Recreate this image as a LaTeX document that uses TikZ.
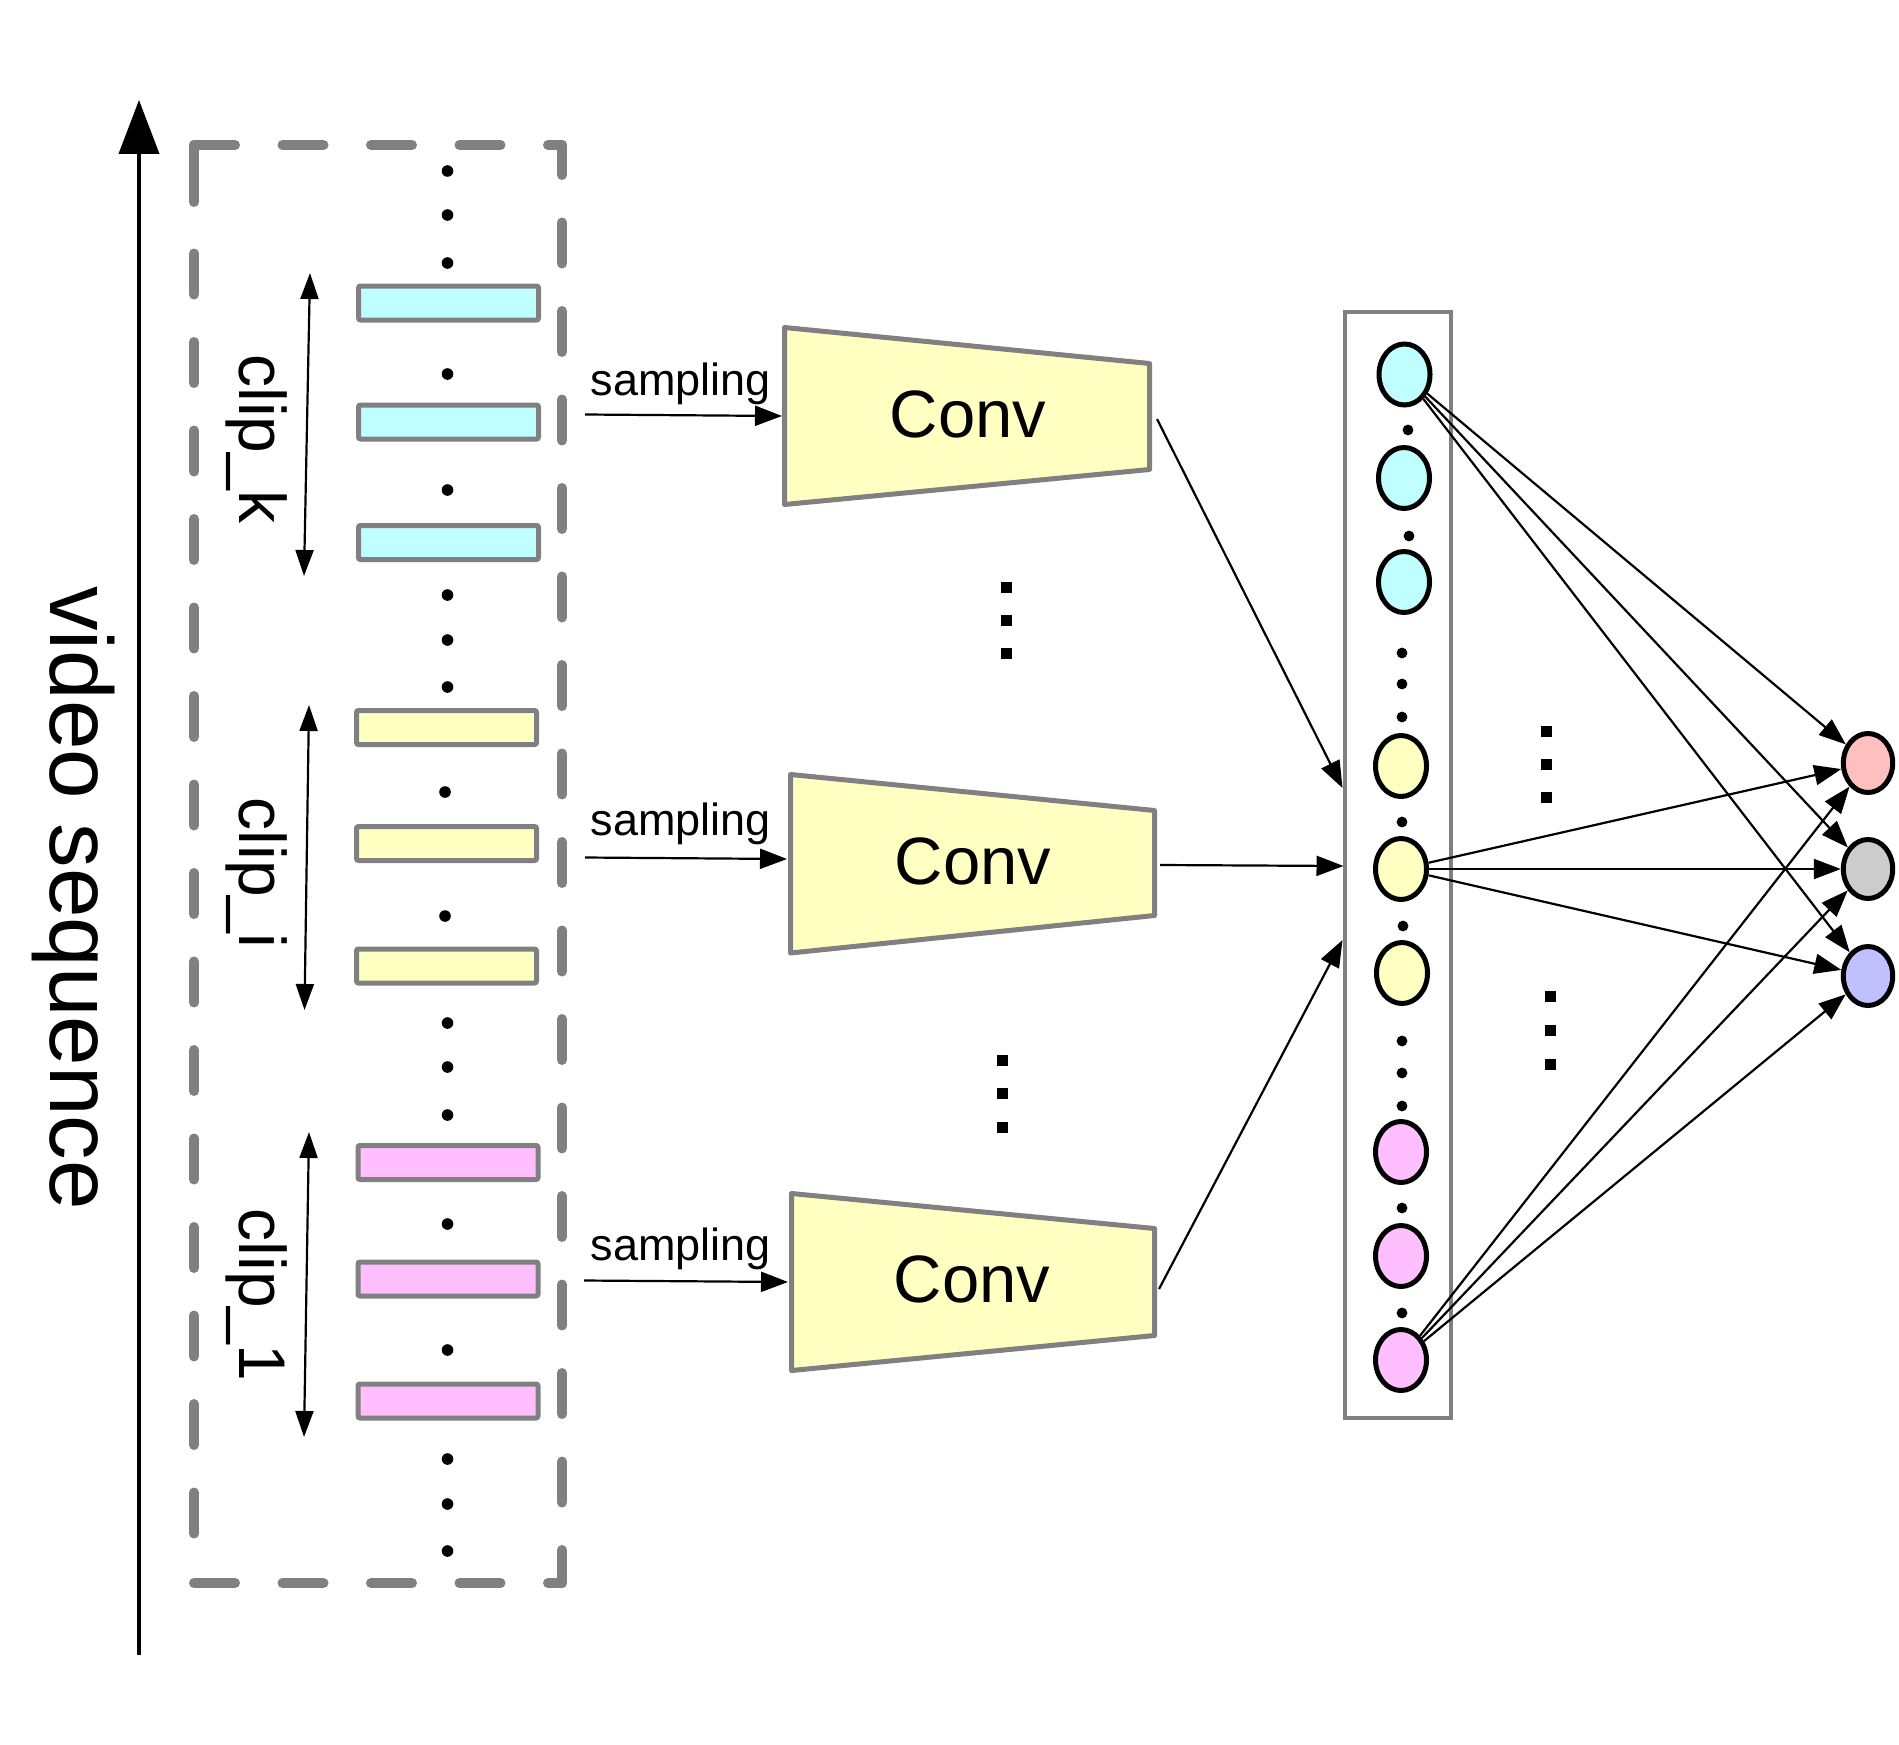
\documentclass[tikz,border=0pt]{standalone}
\usepackage{fontspec}
\setmainfont{Liberation Sans}
\usetikzlibrary{arrows.meta,shapes.geometric}
\definecolor{cyanf}{HTML}{BFFFFF}
\definecolor{yelf}{HTML}{FFFFC2}
\definecolor{pinkf}{HTML}{FFBFFF}
\definecolor{redf}{HTML}{FFBFBF}
\definecolor{grayf}{HTML}{CCCCCC}
\definecolor{bluef}{HTML}{C0C0FF}
\definecolor{edgec}{HTML}{808080}
\begin{document}
\begin{tikzpicture}[x=0.5pt,y=-0.5pt,
 frame/.style={draw=edgec,line width=2.5pt,rounded corners=1pt,minimum width=90pt,minimum height=17pt,inner sep=0pt,outer sep=0pt},
 ell/.style={ellipse,draw=black,line width=2.5pt,minimum width=25.5pt,minimum height=30.5pt,inner sep=0pt},
 outell/.style={ellipse,draw=black,line width=2.5pt,minimum width=24.7pt,minimum height=29.5pt,inner sep=0pt},
 convshape/.style={draw=edgec,line width=2.5pt,fill=yelf,line join=round},
 convtext/.style={font=\fontsize{33.5pt}{40pt}\selectfont,inner sep=0pt},
 samptext/.style={font=\fontsize{22.5pt}{27pt}\selectfont,inner sep=0pt,anchor=base},
 cliptext/.style={font=\fontsize{33pt}{40pt}\selectfont,inner sep=0pt,rotate=-90},
 thinarrow/.style={line width=1.1pt,-{Triangle[length=13.5pt,width=10pt]}},
 cliparrow/.style={line width=1.1pt,{Triangle[length=13pt,width=9pt]}-{Triangle[length=13pt,width=9pt]}},
 dashside/.style={draw=edgec,line width=5pt,line cap=round,dash pattern=on 20.5pt off 23.75pt}
]
\useasboundingbox (0,0) rectangle (1899,1744);

% video sequence axis
\coordinate (vbot) at (139,1655);
\coordinate (vtop) at (139,100);
\draw[line width=2pt,-{Triangle[length=27pt,width=20pt]}] (vbot) -- (vtop);
\node[rotate=-90,inner sep=0pt,font=\fontsize{44.5pt}{52pt}\selectfont] (vs) at (74,898) {video sequence};

% dashed frame box
\draw[dashside] (194,145) -- (562,145);
\draw[dashside,dash phase=5.5pt] (562,145) -- (562,1583);
\draw[dashside] (194,1583) -- (562,1583);
\draw[draw=edgec,line width=5pt,line cap=round] (194,145) -- (194,202);
\draw[dashside,dash phase=20.5pt] (194,206) -- (194,1578);

% frames
\node[frame,fill=cyanf] (fk1) at (448.5,303) {};
\node[frame,fill=cyanf] (fk2) at (448.5,422) {};
\node[frame,fill=cyanf] (fk3) at (448.5,542.5) {};
\node[frame,fill=yelf] (fi1) at (446.5,727.5) {};
\node[frame,fill=yelf] (fi2) at (446.5,843.5) {};
\node[frame,fill=yelf] (fi3) at (446.5,966) {};
\node[frame,fill=pinkf] (f11) at (448,1162.5) {};
\node[frame,fill=pinkf] (f12) at (448,1279) {};
\node[frame,fill=pinkf] (f13) at (448,1401) {};

% dots in frame column
\foreach \y in {171,215,263,374,490,595,640,687,1023,1067,1115,1224,1350,1459,1504,1551}
  \fill (447.5,\y) circle[radius=2.9pt];
\foreach \y in {792,916}
  \fill (445,\y) circle[radius=2.9pt];

% clip arrows and labels
\coordinate (ckt) at (310,273); \coordinate (ckb) at (304,576);
\coordinate (cit) at (309,705); \coordinate (cib) at (304.5,1010);
\coordinate (c1t) at (309,1132); \coordinate (c1b) at (304,1437);
\draw[cliparrow] (ckb) -- (ckt);
\draw[cliparrow] (cib) -- (cit);
\draw[cliparrow] (c1b) -- (c1t);
\node[cliptext] (lk) at (257,439) {clip\_k};
\node[cliptext] (li) at (257,873) {clip\_i};
\node[cliptext] (l1) at (257,1295) {clip\_1};

% Conv blocks
\draw[convshape] (784.5,327.5) -- (1149.5,363.5) -- (1149.5,469.5) -- (784.5,504.5) -- cycle;
\draw[convshape] (790.5,774.5) -- (1154.5,810.5) -- (1154.5,915.5) -- (790.5,953) -- cycle;
\draw[convshape] (791.5,1193.5) -- (1154.5,1228.5) -- (1154.5,1335.5) -- (791.5,1370.5) -- cycle;
\node[convtext] (conv1) at (968,414) {Conv};
\node[convtext] (conv2) at (973,861) {Conv};
\node[convtext] (conv3) at (972,1279) {Conv};
\coordinate (c1in) at (782,416); \coordinate (c1out) at (1157,419);
\coordinate (c2in) at (787,859); \coordinate (c2out) at (1160,865);
\coordinate (c3in) at (788,1282); \coordinate (c3out) at (1159,1289);

% sampling
\coordinate (s1a) at (585,414.5);
\coordinate (s2a) at (585,857.5);
\coordinate (s3a) at (584,1280.5);
\draw[thinarrow] (s1a) -- (c1in);
\draw[thinarrow] (s2a) -- (c2in);
\draw[thinarrow] (s3a) -- (c3in);
\node[samptext] (st1) at (681,395) {sampling};
\node[samptext] (st2) at (681,835) {sampling};
\node[samptext] (st3) at (681,1260) {sampling};

% vertical ellipsis squares
\foreach \x/\y in {1006/587,1006/620,1006/653,1002/1060,1002/1093,1002/1127,1546/731,1546/764,1546/797,1550/996,1550/1030,1550/1064}
  \fill (\x,\y) +(-5.5,-5.5) rectangle +(5.5,5.5);

% feature box
\node[draw=edgec,line width=2.2pt,minimum width=53pt,minimum height=553pt,inner sep=0pt] (fbox) at (1398,865) {};
\coordinate (b1) at (1342.5,788);
\coordinate (b2) at (1343.5,866);
\coordinate (b3) at (1342.5,940);
\draw[thinarrow] (c1out) -- (b1);
\draw[thinarrow] (c2out) -- (b2);
\draw[thinarrow] (c3out) -- (b3);

% feature ellipses
\node[ell,fill=cyanf] (k1) at (1404.5,374.5) {};
\node[ell,fill=cyanf] (k2) at (1404,478) {};
\node[ell,fill=cyanf] (k3) at (1404,582) {};
\node[ell,fill=yelf] (y1) at (1401,766) {};
\node[ell,fill=yelf] (y2) at (1401,869) {};
\node[ell,fill=yelf] (y3) at (1402,973) {};
\node[ell,fill=pinkf] (p1) at (1401,1152) {};
\node[ell,fill=pinkf] (p2) at (1401,1256) {};
\node[ell,fill=pinkf] (p3) at (1401,1360) {};
\foreach \x/\y in {1408/430,1409/536,1402/653,1402/684,1402/717,1402/822,1403/926,1402/1041,1402/1073,1402/1106,1402/1208,1402/1313}
  \fill (\x,\y) circle[radius=2.7pt];

% outputs
\node[outell,fill=redf] (o1) at (1868,763) {};
\node[outell,fill=grayf] (o2) at (1868,869) {};
\node[outell,fill=bluef] (o3) at (1868,976) {};

\foreach \s in {k1,y2,p3}
  \foreach \t in {o1,o2,o3}
    \draw[thinarrow] (\s) -- (\t);
\end{tikzpicture}
\end{document}
